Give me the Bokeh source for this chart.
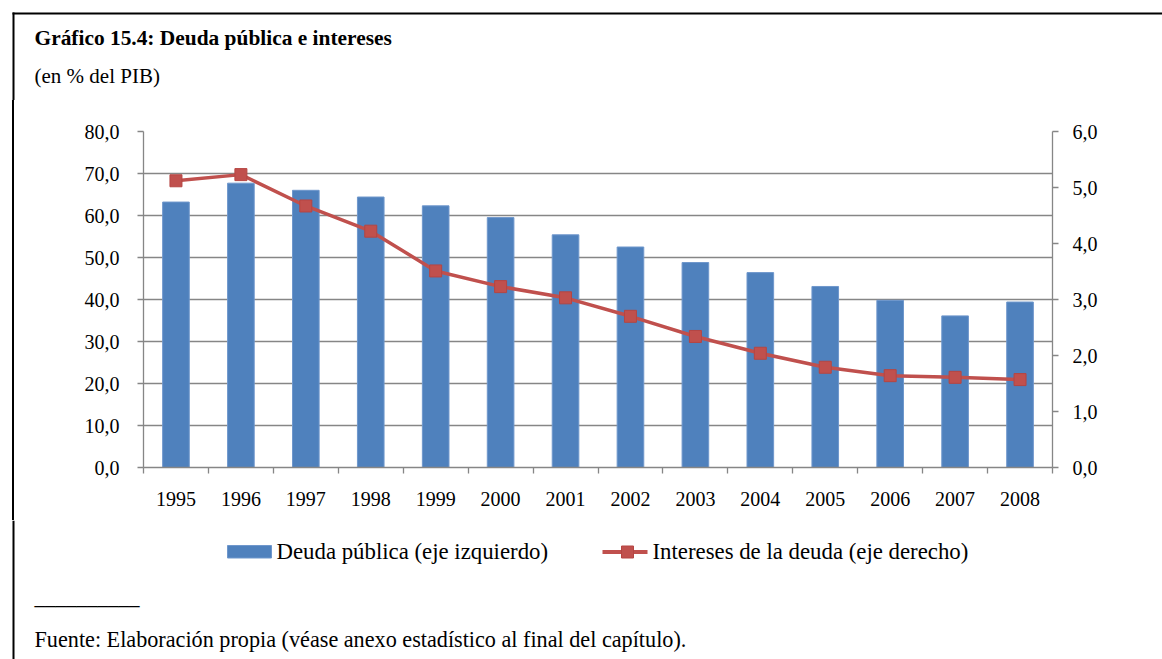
from bokeh.plotting import figure
from bokeh.layouts import column, row
from bokeh.models import (Range1d, LinearAxis, FixedTicker, CustomJSTickFormatter, Grid, Label, Spacer)
from bokeh.embed import file_html
from bokeh.resources import INLINE

# Data (% of GDP)
years = [1995, 1996, 1997, 1998, 1999, 2000, 2001, 2002, 2003, 2004, 2005, 2006, 2007, 2008]
deuda = [63.2, 67.7, 66.0, 64.4, 62.3, 59.5, 55.4, 52.5, 48.8, 46.4, 43.1, 39.8, 36.1, 39.4]
intereses = [5.12, 5.23, 4.67, 4.22, 3.51, 3.23, 3.03, 2.70, 2.34, 2.04, 1.79, 1.64, 1.61, 1.57]
left_ticks = [0, 10, 20, 30, 40, 50, 60, 70, 80]
right_ticks = [0, 1, 2, 3, 4, 5, 6]

title_text = "Gráfico 15.4: Deuda pública e intereses"
subtitle_text = "(en % del PIB)"
source_text = "Fuente: Elaboración propia (véase anexo estadístico al final del capítulo)."
label_deuda = "Deuda pública (eje izquierdo)"
label_int = "Intereses de la deuda (eje derecho)"

FONT = "Liberation Serif"
GRAY = "#868686"
BLUE = "#4F81BD"
RED = "#C0504D"

W, H = 1162, 659
HEAD_H = 100          # header band (title + subtitle)
MAIN_H = 420          # chart band
FOOT_H = H - HEAD_H - MAIN_H
EDGE_W = 14           # strip holding the left page rule beside the chart
LEFT, RIGHT, TOP, BOTTOM = 143, 1052, 131, 467   # plot frame, page pixels
BASE_SHIFT = 7        # label anchor sits this far below the glyph baseline


def blank(width, height, y0, y1, x0=0):
    """A figure whose frame fills the canvas, with page-pixel data coordinates."""
    f = figure(width=width, height=height, output_backend="svg", toolbar_location=None,
               x_range=Range1d(x0, x0 + width), y_range=Range1d(y1, y0),
               x_axis_type=None, y_axis_type=None, min_border=0, frame_align=False)
    f.outline_line_color = None
    f.grid.visible = False
    f.background_fill_color = "white"
    f.border_fill_color = "white"
    return f


def add_text(f, txt, x, baseline, size="21px", style="normal"):
    f.add_layout(Label(x=x, y=baseline - BASE_SHIFT, text=txt, text_font=FONT, text_font_size=size,
                       text_font_style=style, text_color="black",
                       text_baseline="alphabetic", text_align="left"))


# ---- header: page rules, title, subtitle
head = blank(W, HEAD_H, 0, HEAD_H)
head.segment(x0=[12], y0=[13], x1=[W], y1=[13], line_color="black", line_width=2)
head.segment(x0=[13], y0=[12], x1=[13], y1=[HEAD_H], line_color="black", line_width=2)
add_text(head, title_text, 34, 44, size="21.4px", style="bold")
add_text(head, subtitle_text, 34, 82)

# ---- left rule beside the chart (a 2px stripe at x = 12..14)
edge = Spacer(width=EDGE_W, height=MAIN_H,
              styles={"background": "linear-gradient(to right, white 12px, black 12px, "
                                    "black 14px, white 14px)"})

# ---- chart
p = figure(width=W - EDGE_W, height=MAIN_H, output_backend="svg", toolbar_location=None,
           x_range=Range1d(years[0] - 0.5, years[-1] + 0.5),
           y_range=Range1d(left_ticks[0], left_ticks[-1]),
           x_axis_type=None, y_axis_type=None, frame_align=False,
           min_border_left=LEFT - EDGE_W, min_border_right=W - RIGHT,
           min_border_top=TOP - HEAD_H, min_border_bottom=HEAD_H + MAIN_H - BOTTOM)
p.extra_y_ranges = {"right": Range1d(right_ticks[0], right_ticks[-1])}
p.outline_line_color = None
p.background_fill_color = "white"
p.border_fill_color = "white"

comma_fmt = CustomJSTickFormatter(code="return tick.toFixed(1).replace('.', ',');")


def style_axis(ax):
    ax.axis_line_color = GRAY
    ax.axis_line_width = 1.3
    ax.major_tick_line_color = GRAY
    ax.major_tick_line_width = 1.3
    ax.major_tick_in = 0
    ax.major_tick_out = 6
    ax.minor_tick_in = 0
    ax.minor_tick_out = 0
    ax.major_label_text_font = FONT
    ax.major_label_text_font_size = "20px"
    ax.major_label_text_color = "black"
    ax.major_label_standoff = 14


yl = LinearAxis(ticker=FixedTicker(ticks=left_ticks), formatter=comma_fmt)
style_axis(yl)
yl.major_label_standoff = 18
p.add_layout(yl, "left")

yr = LinearAxis(y_range_name="right", ticker=FixedTicker(ticks=right_ticks), formatter=comma_fmt)
style_axis(yr)
p.add_layout(yr, "right")

bounds = [y - 0.5 for y in years] + [years[-1] + 0.5]
xa = LinearAxis(ticker=FixedTicker(ticks=years, minor_ticks=bounds),
                formatter=CustomJSTickFormatter(code="return tick.toFixed(0);"))
style_axis(xa)
xa.major_tick_out = 0
xa.minor_tick_out = 6
xa.minor_tick_line_color = GRAY
xa.minor_tick_line_width = 1.3
xa.major_label_standoff = 18
p.add_layout(xa, "below")

p.add_layout(Grid(dimension=1, ticker=yl.ticker, grid_line_color=GRAY, grid_line_width=1.3))

bar_style = dict(fill_color=BLUE, line_color="#6F97CC", line_width=1)
line_style = dict(line_color=RED, line_width=3.5)
mark_style = dict(marker="square", size=12, fill_color=RED, line_color="#B54542", line_width=1)

p.vbar(x=years, top=deuda, width=0.41, **bar_style)
p.line(years, intereses, y_range_name="right", **line_style)
p.scatter(years, intereses, y_range_name="right", **mark_style)

# ---- footer: legend, rule, source note
foot = blank(W, FOOT_H, HEAD_H + MAIN_H, H)
foot.segment(x0=[13], y0=[HEAD_H + MAIN_H], x1=[13], y1=[H], line_color="black", line_width=2)

# legend keys, drawn with the chart's own styles
LEG_Y = 551.5
foot.quad(left=[227], right=[271], top=[545], bottom=[557.5], **bar_style)
add_text(foot, label_deuda, 276, 558, size="22.8px")
foot.segment(x0=[602], y0=[LEG_Y], x1=[647], y1=[LEG_Y], line_color=RED, line_width=4)
foot.scatter(x=[627], y=[LEG_Y], **mark_style)
add_text(foot, label_int, 652, 558, size="22.8px")

add_text(foot, "__________", 34, 603)
add_text(foot, source_text, 34, 646, size="22.2px")

layout = column(head, row(edge, p, spacing=0), foot, spacing=0)
open("out.html", "w").write(file_html(layout, INLINE))
